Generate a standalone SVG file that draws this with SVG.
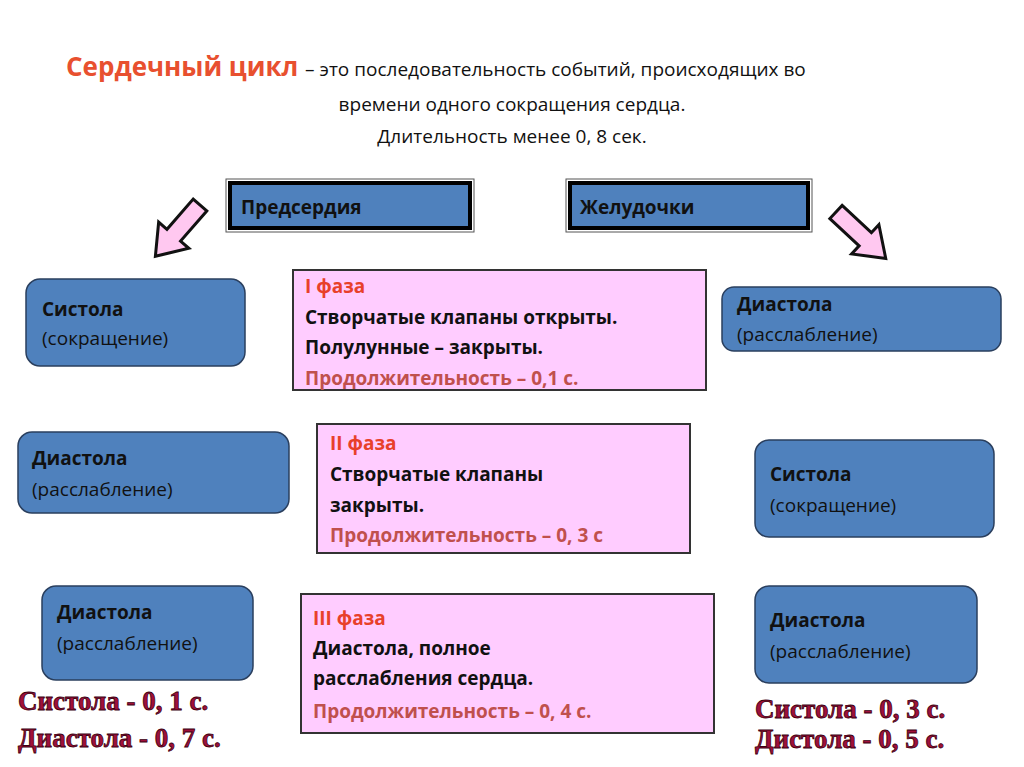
<svg xmlns="http://www.w3.org/2000/svg" width="1024" height="767" viewBox="0 0 1024 767">
<style>
text{font-family:"Open Sans","Noto Sans",sans-serif;font-size:19px;fill:#111}
.b{font-weight:bold}
.blue{fill:#4F81BD;stroke:#2a3f5e;stroke-width:1.5}
.pink{fill:#FFCCFF;stroke:#333;stroke-width:2}
.ph{fill:#E8402A;font-weight:bold}
.dur{fill:#C0504D;font-weight:bold}
.big{font-family:"Liberation Serif","DejaVu Serif",serif;font-size:27px;font-weight:bold;fill:#A0103A;stroke:#3a0010;stroke-width:0.8}
.arr{fill:#FFC8F0;stroke:#111;stroke-width:3;stroke-linejoin:miter}
</style>
<rect width="1024" height="767" fill="#fff"/>
<g id="title">
<text x="66" y="76" style="font-size:26px;font-weight:bold;fill:#E8502F">Сердечный цикл <tspan style="font-size:19px;font-weight:normal;fill:#111">– это последовательность событий, происходящих во</tspan></text>
<text x="512" y="111" text-anchor="middle">времени одного сокращения сердца.</text>
<text x="512" y="143" text-anchor="middle">Длительность менее 0, 8 сек.</text>
</g>
<g id="atria"><rect x="226" y="179" width="248" height="53" fill="#fff" stroke="#555"/><rect x="230" y="183" width="240" height="45" fill="#4F81BD" stroke="#000" stroke-width="4"/><text class="b" x="241" y="214">Предсердия</text></g>
<g id="ventricles"><rect x="566" y="179" width="246" height="53" fill="#fff" stroke="#555"/><rect x="570" y="183" width="238" height="45" fill="#4F81BD" stroke="#000" stroke-width="4"/><text class="b" x="580" y="214">Желудочки</text></g>
<g id="connectors">
<polygon class="arr" points="0,-9 40,-9 40,-20 68,0 40,20 40,9 0,9" transform="translate(200,205) rotate(131)"/>
<polygon class="arr" points="0,-9 40,-9 40,-20 68,0 40,20 40,9 0,9" transform="translate(836,212) rotate(43)"/>
</g>
<g id="l1"><rect class="blue" x="26" y="279" width="219" height="87" rx="14"/><text class="b" x="42" y="316">Систола</text><text x="42" y="345"> (сокращение)</text></g>
<g id="l2"><rect class="blue" x="18" y="432" width="271" height="81" rx="14"/><text class="b" x="32" y="465">Диастола</text><text x="32" y="496">(расслабление)</text></g>
<g id="l3"><rect class="blue" x="42" y="586" width="211" height="94" rx="14"/><text class="b" x="57" y="619">Диастола</text><text x="57" y="650">(расслабление)</text></g>
<g id="r1"><rect class="blue" x="722" y="287" width="279" height="64" rx="12"/><text class="b" x="737" y="311">Диастола</text><text x="737" y="341">(расслабление)</text></g>
<g id="r2"><rect class="blue" x="755" y="440" width="239" height="97" rx="14"/><text class="b" x="770" y="481">Систола</text><text x="770" y="512">(сокращение)</text></g>
<g id="r3"><rect class="blue" x="755" y="586" width="222" height="97" rx="14"/><text class="b" x="770" y="627">Диастола</text><text x="770" y="658">(расслабление)</text></g>
<g id="p1"><rect class="pink" x="293" y="270" width="413" height="120"/><text class="ph" x="305" y="293">I фаза</text><text class="b" x="305" y="324">Створчатые клапаны открыты.</text><text class="b" x="305" y="354">Полулунные – закрыты.</text><text class="dur" x="305" y="385">Продолжительность – 0,1 с.</text></g>
<g id="p2"><rect class="pink" x="317" y="424" width="373" height="129"/><text class="ph" x="330" y="450">II фаза</text><text class="b" x="330" y="481">Створчатые клапаны</text><text class="b" x="330" y="512">закрыты.</text><text class="dur" x="330" y="542">Продолжительность – 0, 3 с</text></g>
<g id="p3"><rect class="pink" x="301" y="594" width="413" height="139"/><text class="ph" x="313" y="625">III фаза</text><text class="b" x="313" y="655">Диастола, полное</text><text class="b" x="313" y="685"> расслабления сердца.</text><text class="dur" x="313" y="718">Продолжительность – 0, 4 с.</text></g>
<g id="sumL"><text class="big" x="18" y="710">Систола - 0, 1 с.</text><text class="big" x="18" y="747">Диастола - 0, 7 с.</text></g>
<g id="sumR"><text class="big" x="755" y="718">Систола - 0, 3 с.</text><text class="big" x="755" y="748">Дистола - 0, 5 с.</text></g>
</svg>
